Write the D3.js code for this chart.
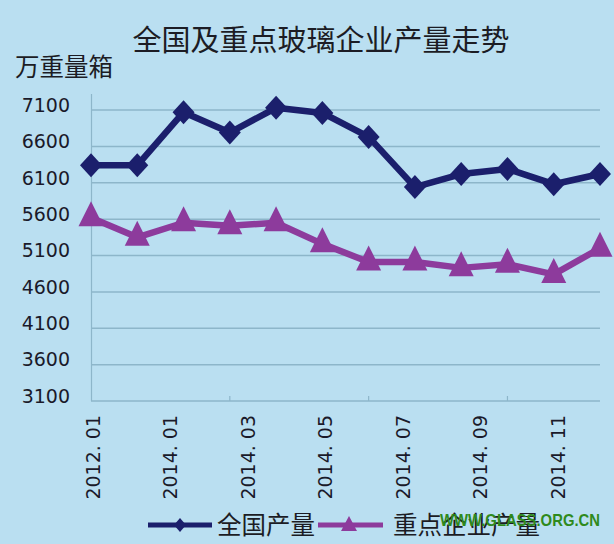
<!DOCTYPE html>
<html><head><meta charset="utf-8">
<script src="https://cdn.jsdelivr.net/npm/d3@7"></script>
<style>html,body{margin:0;padding:0;background:#badff1;}svg{display:block;}</style>
</head><body>
<script>
const categories = ["2012.01","2014.01","2014.02","2014.03","2014.04","2014.05","2014.06","2014.07","2014.08","2014.09","2014.10","2014.11"];
const national = [6340,6340,7070,6790,7130,7060,6730,6040,6220,6290,6080,6220];
const keyFirms = [5620,5350,5550,5510,5550,5260,5010,5010,4930,4980,4840,5200];
const yTicks = [3100,3600,4100,4600,5100,5600,6100,6600,7100];
const xTickLabels = ["2012. 01","2014. 01","2014. 03","2014. 05","2014. 07","2014. 09","2014. 11"];
const seriesNames = ["全国产量","重点企业产量"];
const title = "全国及重点玻璃企业产量走势";
const unitLabel = "万重量箱";

const W = 614, H = 544;
const navy = "#1b1f6c", purple = "#8d3b9c", grid = "#8db6ca", bg = "#badff1";
const svg = d3.select("body").append("svg").attr("width", W).attr("height", H);
svg.append("rect").attr("width", W).attr("height", H).attr("fill", bg);

const x = d3.scalePoint().domain(categories).range([91, 600]);
const y = d3.scaleLinear().domain([3100, 7100]).range([401, 110]);
const xl = d3.scalePoint().domain(xTickLabels).range([93, 558]);

// gridlines
svg.append("g").selectAll("line").data(yTicks).join("line")
  .attr("x1", 91).attr("x2", 600).attr("y1", d => y(d)).attr("y2", d => y(d))
  .attr("stroke", grid).attr("stroke-width", 1.5);
// y axis line
svg.append("line").attr("x1", 91.5).attr("x2", 91.5).attr("y1", 94).attr("y2", 401)
  .attr("stroke", grid).attr("stroke-width", 1.2);
// x tick marks every 3 categories
svg.append("g").selectAll("line").data(categories.filter((d, i) => i % 3 === 0 && i > 0)).join("line")
  .attr("x1", d => x(d)).attr("x2", d => x(d)).attr("y1", 396).attr("y2", 401)
  .attr("stroke", grid).attr("stroke-width", 1.2);

// y tick labels
svg.append("g").selectAll("text").data(yTicks).join("text")
  .attr("x", 70).attr("y", d => y(d) - 5).attr("dy", "0.36em")
  .attr("text-anchor", "end").attr("font-family", "DejaVu Sans").attr("font-size", 19)
  .attr("fill", "#1a1a2a").text(d => d);

// x tick labels rotated
svg.append("g").selectAll("text").data(xTickLabels).join("text")
  .attr("transform", d => `translate(${xl(d)},415) rotate(-90)`)
  .attr("text-anchor", "end").attr("dy", "0.36em")
  .attr("font-family", "DejaVu Sans").attr("font-size", 19).attr("fill", "#1a1a2a")
  .text(d => d);

// title & unit
svg.append("text").attr("x", 321).attr("y", 51).attr("text-anchor", "middle")
  .attr("font-family", "Noto Sans CJK SC").attr("font-size", 29).attr("fill", "#1c1c24").text(title);
svg.append("text").attr("x", 15).attr("y", 76)
  .attr("font-family", "Noto Sans CJK SC").attr("font-size", 24.5).attr("fill", "#1c1c24").text(unitLabel);

const diamond = (hw, hh) => ({draw(ctx){ctx.moveTo(0,-hh);ctx.lineTo(hw,0);ctx.lineTo(0,hh);ctx.lineTo(-hw,0);ctx.closePath();}});
const tri = (hw, top, bot) => ({draw(ctx){ctx.moveTo(0,-top);ctx.lineTo(hw,bot);ctx.lineTo(-hw,bot);ctx.closePath();}});

const line = d3.line().x((d, i) => x(categories[i])).y(d => y(d));
svg.append("path").datum(national).attr("d", line).attr("fill", "none")
  .attr("stroke", navy).attr("stroke-width", 6.5).attr("stroke-linejoin", "round");
svg.append("path").datum(keyFirms).attr("d", line).attr("fill", "none")
  .attr("stroke", purple).attr("stroke-width", 6.5).attr("stroke-linejoin", "round");

svg.append("g").selectAll("path").data(national).join("path")
  .attr("transform", (d, i) => `translate(${x(categories[i])},${y(d)})`)
  .attr("d", d3.symbol().type(diamond(11, 12))()).attr("fill", navy);
svg.append("g").selectAll("path").data(keyFirms).join("path")
  .attr("transform", (d, i) => `translate(${x(categories[i])},${y(d)})`)
  .attr("d", d3.symbol().type(tri(12.5, 16.5, 8.5))()).attr("fill", purple);

// legend
const lg = svg.append("g");
lg.append("line").attr("x1", 148).attr("x2", 212).attr("y1", 525).attr("y2", 525).attr("stroke", navy).attr("stroke-width", 5);
lg.append("path").attr("transform", "translate(180,525)").attr("d", d3.symbol().type(diamond(6, 7))()).attr("fill", navy);
lg.append("text").attr("x", 217).attr("y", 534).attr("font-family", "Noto Sans CJK SC").attr("font-size", 24.5).attr("fill", "#1c1c24").text(seriesNames[0]);
lg.append("line").attr("x1", 318).attr("x2", 383).attr("y1", 525).attr("y2", 525).attr("stroke", purple).attr("stroke-width", 5);
lg.append("path").attr("transform", "translate(349,526)").attr("d", d3.symbol().type(tri(8, 10, 5))()).attr("fill", purple);
lg.append("text").attr("x", 393).attr("y", 534).attr("font-family", "Noto Sans CJK SC").attr("font-size", 24.5).attr("fill", "#1c1c24").text(seriesNames[1]);

// watermark
svg.append("text").attr("x", 440).attr("y", 526).attr("font-family", "Liberation Sans").attr("font-weight", "bold")
  .attr("font-size", 17).attr("textLength", 160).attr("lengthAdjust", "spacingAndGlyphs")
  .attr("fill", "#2f8a1c").text("WWW.GLASS.ORG.CN");
</script>
</body></html>
